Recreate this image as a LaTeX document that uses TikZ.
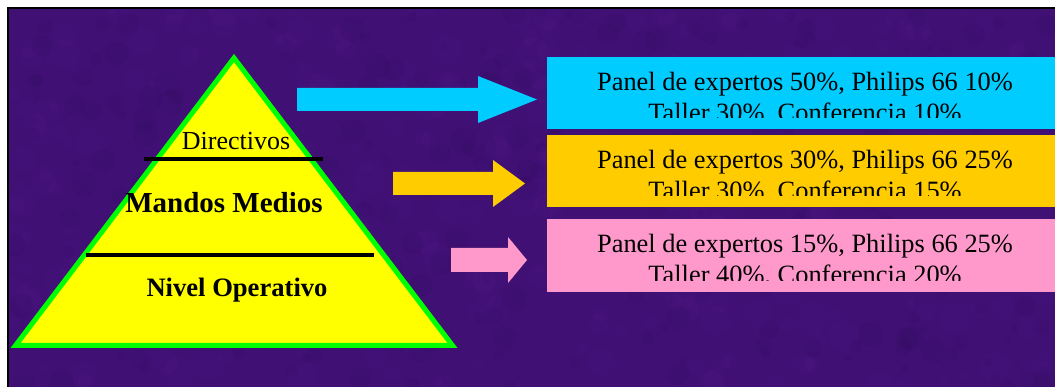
\documentclass[tikz,border=0pt]{standalone}
\usepackage{fontspec}
\setmainfont{Liberation Serif}
\usepackage{tikz}

\definecolor{fondo}{RGB}{64,16,116}
\definecolor{fondoclaro}{RGB}{96,30,150}
\definecolor{fondooscuro}{RGB}{40,8,80}
\definecolor{amarillo}{RGB}{255,255,0}
\definecolor{verde}{RGB}{0,255,0}
\definecolor{celeste}{RGB}{0,204,255}
\definecolor{naranja}{RGB}{255,204,0}
\definecolor{rosa}{RGB}{255,153,204}

\tikzset{
  nivel/.style={anchor=base,inner sep=0pt,font=\fontsize{26}{31}\selectfont},
  caja/.style={anchor=base,inner sep=0pt,font=\fontsize{26.4}{31}\selectfont},
  raya/.style={line width=4pt,black}
}

\begin{document}
\begin{tikzpicture}[x=1pt,y=-1pt]
\useasboundingbox (0,0) rectangle (1055,387);
\fill[white] (0,0) rectangle (1055,387);

% fondo morado con algo de textura
\fill[fondo] (8,8) rectangle (1055,387);
\pgfmathsetseed{11}
\begin{scope}
\clip (8,8) rectangle (1055,387);
\foreach \i in {1,...,400}{
  \pgfmathsetmacro{\px}{8+1047*rnd}
  \pgfmathsetmacro{\py}{8+379*rnd}
  \pgfmathsetmacro{\pr}{4+12*rnd}
  \fill[fondoclaro,opacity=0.09] (\px,\py) circle (\pr);
}
\foreach \i in {1,...,300}{
  \pgfmathsetmacro{\px}{8+1047*rnd}
  \pgfmathsetmacro{\py}{8+379*rnd}
  \pgfmathsetmacro{\pr}{3+10*rnd}
  \fill[fondooscuro,opacity=0.1] (\px,\py) circle (\pr);
}
\end{scope}
\draw[line width=2pt] (8,387) -- (8,8) -- (1055,8);

% piramide
\draw[line width=5pt,verde,fill=amarillo,line join=miter]
  (234,58) -- (15.5,345.5) -- (452.5,345.5) -- cycle;
\draw[raya] (144,159) -- (323,159);
\draw[raya] (86,255) -- (374,255);

\node[nivel] (dir) at (236,150) {Directivos};
\node[nivel,font=\fontsize{29}{33}\selectfont\bfseries] (med) at (224,213) {Mandos Medios};
\node[nivel,font=\fontsize{26.6}{31}\selectfont\bfseries] (ope) at (237,297) {Nivel Operativo};

% flechas
\foreach \c/\xa/\xb/\xt/\ym/\sh/\hh in {celeste/297/478/537/99.5/11.5/23.5,
                                       naranja/393/493/525/183.5/11.5/23.5,
                                       rosa/451/508/527/260/12/23}
  \fill[\c] (\xa,{\ym-\sh}) -- (\xb,{\ym-\sh}) -- (\xb,{\ym-\hh}) -- (\xt,\ym)
    -- (\xb,{\ym+\hh}) -- (\xb,{\ym+\sh}) -- (\xa,{\ym+\sh}) -- cycle;

% cajas
\fill[celeste] (547,57) rectangle (1055,129);
\fill[naranja] (547,135) rectangle (1055,207);
\fill[rosa] (547,219) rectangle (1055,292);

\begin{scope}
\clip (547,57) rectangle (1055,118);
\node[caja] (exp1) at (805,91) {Panel de expertos 50\%, Philips 66 10\%};
\node[caja] (tal1) at (805,122) {Taller 30\%, Conferencia 10\%};
\end{scope}
\begin{scope}
\clip (547,135) rectangle (1055,196);
\node[caja] (exp2) at (805,169) {Panel de expertos 30\%, Philips 66 25\%};
\node[caja] (tal2) at (805,200) {Taller 30\%, Conferencia 15\%};
\end{scope}
\begin{scope}
\clip (547,219) rectangle (1055,281);
\node[caja] (exp3) at (805,253) {Panel de expertos 15\%, Philips 66 25\%};
\node[caja] (tal3) at (805,284) {Taller 40\%, Conferencia 20\%};
\end{scope}
\end{tikzpicture}
\end{document}
